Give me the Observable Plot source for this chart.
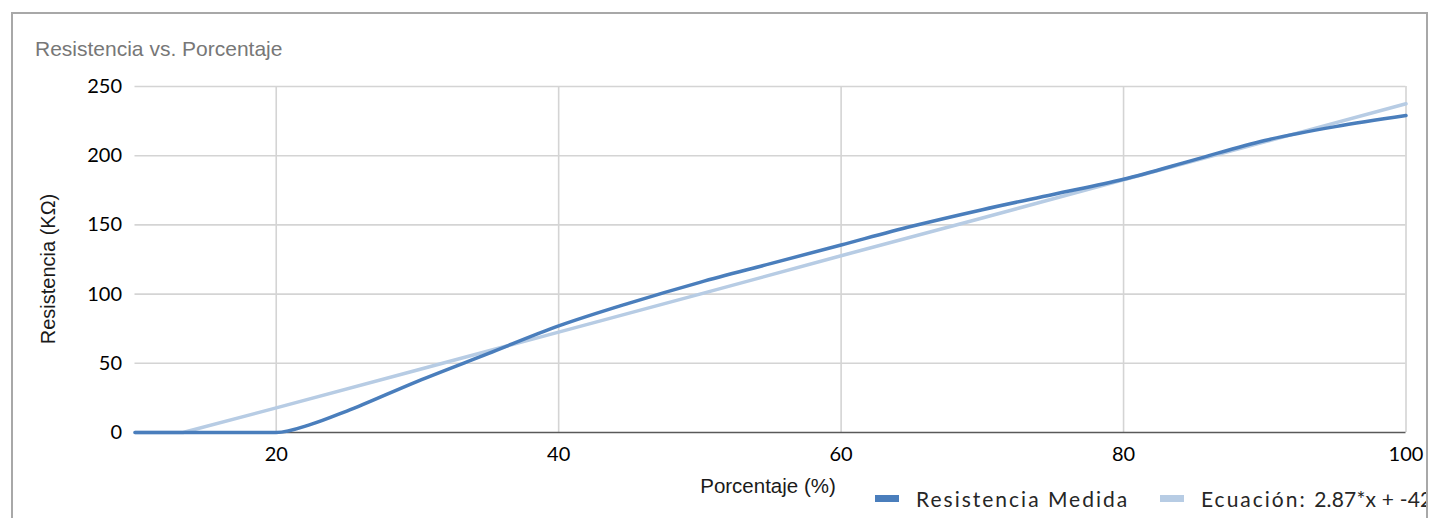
<!DOCTYPE html>
<html><head><meta charset="utf-8">
<script src="https://cdn.jsdelivr.net/npm/d3@7"></script>
<script src="https://cdn.jsdelivr.net/npm/@observablehq/plot@0.6"></script>
<style>
html,body{margin:0;padding:0;background:#fff;}
#wrap{position:relative;width:1433px;height:518px;overflow:hidden;}
#frame{position:absolute;left:11px;top:12px;width:1417px;height:600px;border:2px solid #a8a8a8;box-sizing:border-box;overflow:hidden;}
#title{position:absolute;left:22px;top:23px;font-family:"Liberation Sans",Arial,sans-serif;font-size:21px;color:#777;white-space:nowrap;}
#ylab{position:absolute;left:35px;top:255px;transform:translate(-50%,-50%) rotate(-90deg);font-family:"Liberation Sans",Arial,sans-serif;font-size:20px;color:#1a1a1a;white-space:nowrap;}
#xlab{position:absolute;left:755px;top:472px;transform:translate(-50%,-50%);font-family:"Liberation Sans",Arial,sans-serif;font-size:20.5px;color:#1a1a1a;white-space:nowrap;}
.leg{position:absolute;top:469px;height:30px;display:flex;align-items:center;white-space:nowrap;font-family:"Lato","Noto Sans",sans-serif;font-size:21px;letter-spacing:2px;color:#262626;}
.sw{display:inline-block;width:24px;height:7px;margin-right:17px;}
.tight{letter-spacing:0.2px;}
#chart{position:absolute;left:0;top:0;}
</style>
</head><body>
<div id="wrap">
  <div id="chart"></div>
  <div id="frame">
    <div id="title"></div>
    <div id="ylab"></div>
    <div id="xlab"></div>
    <div class="leg" id="leg1"></div>
    <div class="leg" id="leg2"></div>
  </div>
</div>
<script>
// ---- data ----
const titleText = "Resistencia vs. Porcentaje";
const yTitle = "Resistencia (KΩ)";
const xTitle = "Porcentaje (%)";
const seriesNames = ["Resistencia Medida", "Ecuación:", "2.87*x + -42"];
const seriesColors = ["#4a7ebc", "#b7cce4"];

const medX = [10, 20, 22.5, 25, 30, 35, 40, 45, 50, 55, 60, 65, 70, 75, 80, 85, 90, 95, 100];
const medY = [0, 0, 6, 15.5, 37, 57, 77, 93.5, 108.5, 122, 135.5, 149, 161, 172, 183, 197, 211, 221, 229];

const eqX = [10, 13.4, 20, 30, 40, 50, 60, 70, 80, 90, 100];
const eqY = [0, 0, 17.8, 45.2, 72.5, 100, 127.7, 155, 182.6, 210, 237.5];

const xTicks = [20, 40, 60, 80, 100];
const yTicks = [0, 50, 100, 150, 200, 250];

// ---- build tables ----
const med = medX.map((x, i) => ({x, y: medY[i]}));
const eq = eqX.map((x, i) => ({x, y: eqY[i]}));

const tickFont = "Lato, 'Noto Sans', sans-serif";

const chart = Plot.plot({
  width: 1433,
  height: 518,
  marginLeft: 134.5,
  marginRight: 27.5,
  marginTop: 86,
  marginBottom: 86,
  style: {fontFamily: tickFont, fontSize: "20px", color: "#000", background: "transparent", overflow: "visible"},
  x: {domain: [10, 100], ticks: xTicks, label: null},
  y: {domain: [0, 250], ticks: yTicks, label: null},
  marks: [
    Plot.gridX(xTicks, {stroke: "#d4d4d4", strokeOpacity: 1, strokeWidth: 1.6}),
    Plot.gridY(yTicks.filter(d => d > 0), {stroke: "#d4d4d4", strokeOpacity: 1, strokeWidth: 1.6}),
    Plot.ruleY([0], {stroke: "#595959", strokeWidth: 1.4}),
    Plot.axisX(xTicks, {tickSize: 0, tickPadding: 14, fontSize: 20, fill: "#000"}),
    Plot.axisY(yTicks, {tickSize: 0, tickPadding: 13, fontSize: 20, fill: "#000"}),
    Plot.line(eq, {x: "x", y: "y", stroke: seriesColors[1], strokeWidth: 3.5, curve: "linear"}),
    Plot.line(med, {x: "x", y: "y", stroke: seriesColors[0], strokeWidth: 3.5, curve: "monotone-x"})
  ]
});
document.getElementById("chart").appendChild(chart);

document.getElementById("title").textContent = titleText;
document.getElementById("ylab").textContent = yTitle;
document.getElementById("xlab").textContent = xTitle;

const l1 = document.getElementById("leg1");
l1.style.left = (875 - 13) + "px";
l1.innerHTML = `<span class="sw" style="background:${seriesColors[0]}"></span><span></span>`;
l1.lastChild.textContent = seriesNames[0];
const l2 = document.getElementById("leg2");
l2.style.left = (1160 - 13) + "px";
l2.innerHTML = `<span class="sw" style="background:${seriesColors[1]}"></span><span></span><span class="tight"></span>`;
l2.children[1].textContent = seriesNames[1] + "\u00a0";
l2.children[2].textContent = seriesNames[2];
</script>
</body></html>
